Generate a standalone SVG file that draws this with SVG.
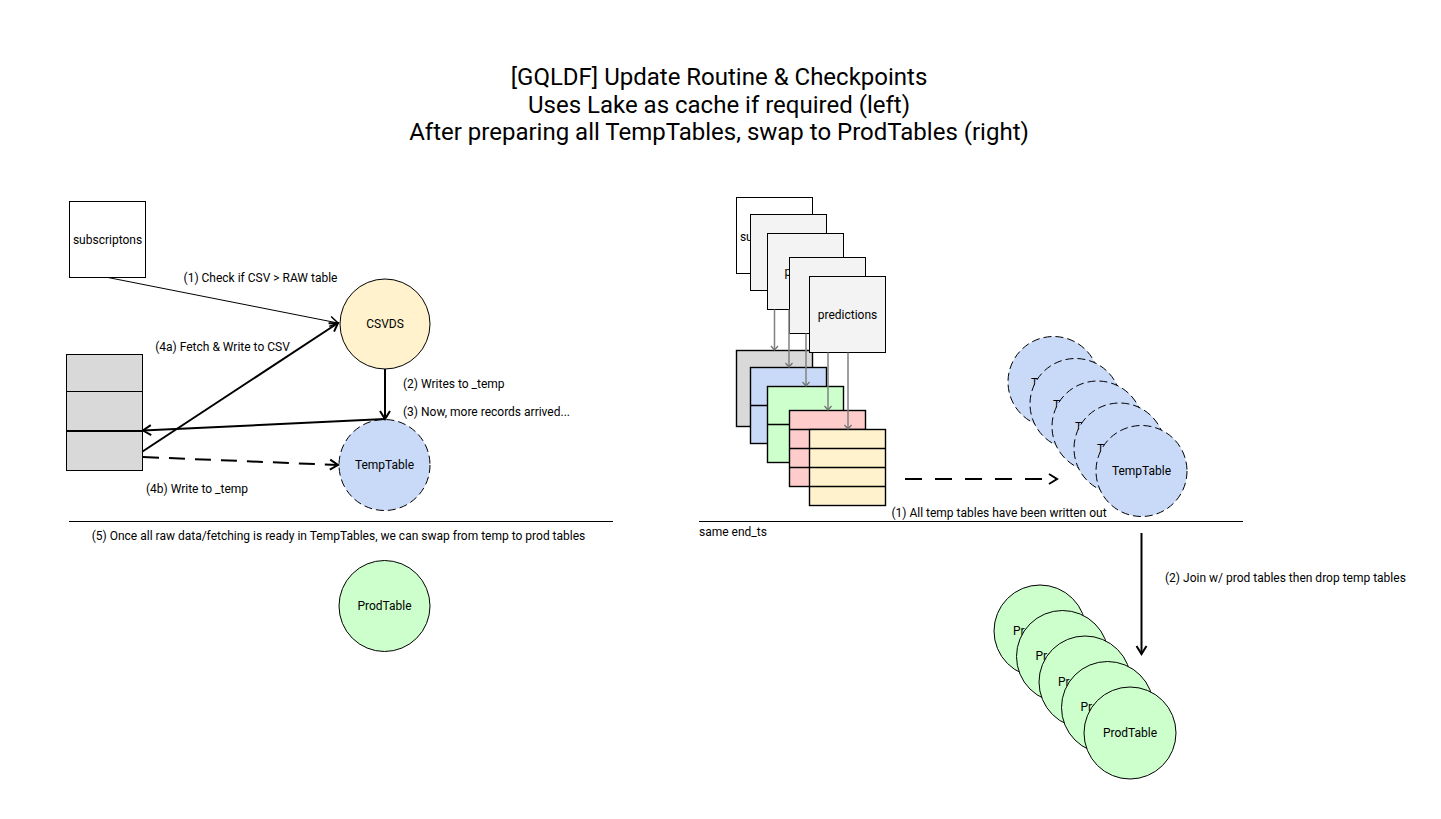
<svg xmlns="http://www.w3.org/2000/svg" width="1441" height="819" viewBox="0 0 1441 819">
<style>
text { font-family: Roboto, "Liberation Sans", Arial, sans-serif; fill: #000; }
.t { font-size: 24px; text-anchor: middle; }
.l { font-size: 12px; }
.m { text-anchor: middle; }
.n { stroke: #000; stroke-width: 1; }
.dash { stroke-dasharray: 8 4; }
.tb { stroke: #000; stroke-width: 1.4; }
.e { fill: none; stroke: #000; }
.th { stroke-width: 2; }
.tn { stroke-width: 1; }
.g { fill: none; stroke: #808080; stroke-width: 1.5; }
.rule { stroke: #000; stroke-width: 1; }
.yel { fill: #fff2cc; }
.blu { fill: #c9daf8; }
.grn { fill: #ccffcc; }
.red { fill: #ffcccc; }
.gry { fill: #d9d9d9; }
.lg { fill: #f3f3f3; }
.wh { fill: #ffffff; }
</style>
<defs>
<marker id="ah" markerUnits="userSpaceOnUse" markerWidth="16" markerHeight="16" viewBox="-12 -8 16 16" refX="0" refY="0" orient="auto">
<path d="M-8,-5 L0,0 L-8,5" fill="none" stroke="#000" stroke-width="2"/>
</marker>
<marker id="ahs" markerUnits="userSpaceOnUse" markerWidth="16" markerHeight="16" viewBox="-12 -8 16 16" refX="0" refY="0" orient="auto">
<path d="M-8,-5 L0,0 L-8,5" fill="none" stroke="#000" stroke-width="1.5"/>
</marker>
<marker id="ahg" markerUnits="userSpaceOnUse" markerWidth="10" markerHeight="10" viewBox="-6 -5 10 10" refX="0" refY="0" orient="auto">
<path d="M-4,-3.5 L0,0 L-4,3.5" fill="none" stroke="#707070" stroke-width="1.2"/>
</marker>
</defs>
<rect width="1441" height="819" fill="#fff"/>

<g id="title">
<text class="t" x="719" y="85">[GQLDF] Update Routine &amp; Checkpoints</text>
<text class="t" x="719" y="112.5">Uses Lake as cache if required (left)</text>
<text class="t" x="719" y="140">After preparing all TempTables, swap to ProdTables (right)</text>
</g>

<!-- Left side nodes -->
<g id="subscriptons">
<rect class="n wh" x="69.5" y="201.5" width="76" height="76"/>
<text class="l m" x="107.5" y="244">subscriptons</text>
</g>
<g id="csvds">
<circle class="n yel" cx="385" cy="324" r="45"/>
<text class="l m" x="385" y="328">CSVDS</text>
</g>
<g id="lake-table">
<rect class="n gry" x="66.5" y="354.5" width="76" height="116"/>
<line class="n" x1="66.5" y1="391.5" x2="142.5" y2="391.5"/>
<line x1="66.5" y1="431" x2="142.5" y2="431" stroke="#000" stroke-width="2"/>
</g>
<g id="temptable-left">
<circle class="n dash blu" cx="384.5" cy="465" r="45.5"/>
<text class="l m" x="384.5" y="469">TempTable</text>
</g>
<g id="prodtable-left">
<circle class="n grn" cx="384.5" cy="606" r="45.5"/>
<text class="l m" x="384.5" y="610">ProdTable</text>
</g>
<g id="divider-left">
<line class="rule" x1="69" y1="521.5" x2="613" y2="521.5"/>
<text class="l m" x="338.5" y="540">(5) Once all raw data/fetching is ready in TempTables, we can swap from temp to prod tables</text>
</g>

<!-- Right side: source boxes and tables -->
<g id="box-1">
<rect class="n wh" x="736.5" y="197.5" width="76" height="76"/>
<text class="l m" x="774.5" y="241">subscriptons</text>
</g>
<g id="table-1">
<rect class="tb gry" x="736.5" y="350.5" width="76" height="76"/>
</g>
<g id="box-2">
<rect class="n lg" x="750.5" y="214.5" width="76" height="76"/>
</g>
<g id="table-2">
<rect class="tb blu" x="750.5" y="367.5" width="76" height="76"/>
<line class="tb" x1="750.5" y1="405.5" x2="826.5" y2="405.5"/>
</g>
<g id="box-3">
<rect class="n lg" x="767.5" y="233.5" width="76" height="76"/>
<text class="l" x="784.5" y="276">p</text>
</g>
<g id="table-3">
<rect class="tb grn" x="767.5" y="386.5" width="76" height="76"/>
<line class="tb" x1="767.5" y1="424.5" x2="843.5" y2="424.5"/>
</g>
<g id="box-4">
<rect class="n lg" x="789.5" y="257.5" width="76" height="76"/>
</g>
<g id="table-4">
<rect class="tb red" x="789.5" y="410.5" width="76" height="76"/>
<line class="tb" x1="789.5" y1="429.5" x2="865.5" y2="429.5"/>
<line class="tb" x1="789.5" y1="448.5" x2="865.5" y2="448.5"/>
<line class="tb" x1="789.5" y1="467.5" x2="865.5" y2="467.5"/>
</g>
<g id="box-5">
<rect class="n lg" x="809.5" y="276.5" width="76" height="76"/>
<text class="l m" x="847.5" y="319">predictions</text>
</g>
<g id="table-5">
<rect class="tb yel" x="809.5" y="429.5" width="76" height="76"/>
<line class="tb" x1="809.5" y1="448.5" x2="885.5" y2="448.5"/>
<line class="tb" x1="809.5" y1="467.5" x2="885.5" y2="467.5"/>
<line class="tb" x1="809.5" y1="486.5" x2="885.5" y2="486.5"/>
</g>

<!-- Right side: temp tables -->
<g id="temp-1">
<circle class="n dash blu" cx="1053.5" cy="382" r="45.5"/>
<text class="l" x="1031" y="386.5">TempTable</text>
</g>
<g id="temp-2">
<circle class="n dash blu" cx="1075.5" cy="404" r="45.5"/>
<text class="l" x="1053" y="408.5">TempTable</text>
</g>
<g id="temp-3">
<circle class="n dash blu" cx="1097.5" cy="426.5" r="45.5"/>
<text class="l" x="1075" y="431">TempTable</text>
</g>
<g id="temp-4">
<circle class="n dash blu" cx="1119.5" cy="448.5" r="45.5"/>
<text class="l" x="1097" y="453">TempTable</text>
</g>
<g id="temp-5">
<circle class="n dash blu" cx="1141.5" cy="471" r="45.5"/>
<text class="l m" x="1141.5" y="474.5">TempTable</text>
</g>

<g id="divider-right">
<line class="rule" x1="699" y1="521.5" x2="1243" y2="521.5"/>
<text class="l" x="699" y="536">same end_ts</text>
</g>

<!-- Right side: prod tables -->
<g id="prod-1">
<circle class="n grn" cx="1040" cy="631" r="46"/>
<text class="l m" x="1040" y="634.5">ProdTable</text>
</g>
<g id="prod-2">
<circle class="n grn" cx="1062.5" cy="656.5" r="46"/>
<text class="l m" x="1062.5" y="660">ProdTable</text>
</g>
<g id="prod-3">
<circle class="n grn" cx="1085" cy="682" r="46"/>
<text class="l m" x="1085" y="685.5">ProdTable</text>
</g>
<g id="prod-4">
<circle class="n grn" cx="1107.5" cy="707.5" r="46"/>
<text class="l m" x="1107.5" y="711">ProdTable</text>
</g>
<g id="prod-5">
<circle class="n grn" cx="1130" cy="733" r="46"/>
<text class="l m" x="1130" y="737">ProdTable</text>
</g>

<!-- Connectors -->
<g id="connectors">
<line class="e tn" x1="108" y1="277.5" x2="338" y2="323" marker-end="url(#ahs)"/>
<line class="e th" x1="142.5" y1="451.5" x2="338" y2="323" marker-end="url(#ah)"/>
<line class="e th" x1="385" y1="369" x2="385" y2="419" marker-end="url(#ah)"/>
<line class="e th" x1="385" y1="419" x2="143" y2="430.5" marker-end="url(#ah)"/>
<line class="e th" x1="143" y1="457" x2="338" y2="465" stroke-dasharray="16 10" marker-end="url(#ah)"/>

<line class="g" x1="774.5" y1="309.5" x2="774.5" y2="350" marker-end="url(#ahg)"/>
<line class="g" x1="789" y1="309.5" x2="789" y2="367" marker-end="url(#ahg)"/>
<line class="g" x1="806" y1="333.5" x2="806" y2="386" marker-end="url(#ahg)"/>
<line class="g" x1="828" y1="352.5" x2="828" y2="410" marker-end="url(#ahg)"/>
<line class="g" x1="848" y1="352.5" x2="848" y2="429" marker-end="url(#ahg)"/>

<line class="e th" x1="905" y1="479" x2="1057" y2="479" stroke-dasharray="17 13" marker-end="url(#ah)"/>
<line class="e th" x1="1141.5" y1="533" x2="1141.5" y2="654" marker-end="url(#ah)"/>
</g>

<g id="edge-labels">
<text class="l m" x="260.5" y="282">(1) Check if CSV &gt; RAW table</text>
<text class="l m" x="222.5" y="351">(4a) Fetch &amp; Write to CSV</text>
<text class="l" x="403" y="388">(2) Writes to _temp</text>
<text class="l" x="403" y="416">(3) Now, more records arrived...</text>
<text class="l m" x="197" y="493">(4b) Write to _temp</text>
<text class="l m" x="999" y="516.5">(1) All temp tables have been written out</text>
<text class="l" x="1165" y="582">(2) Join w/ prod tables then drop temp tables</text>
</g>
</svg>
